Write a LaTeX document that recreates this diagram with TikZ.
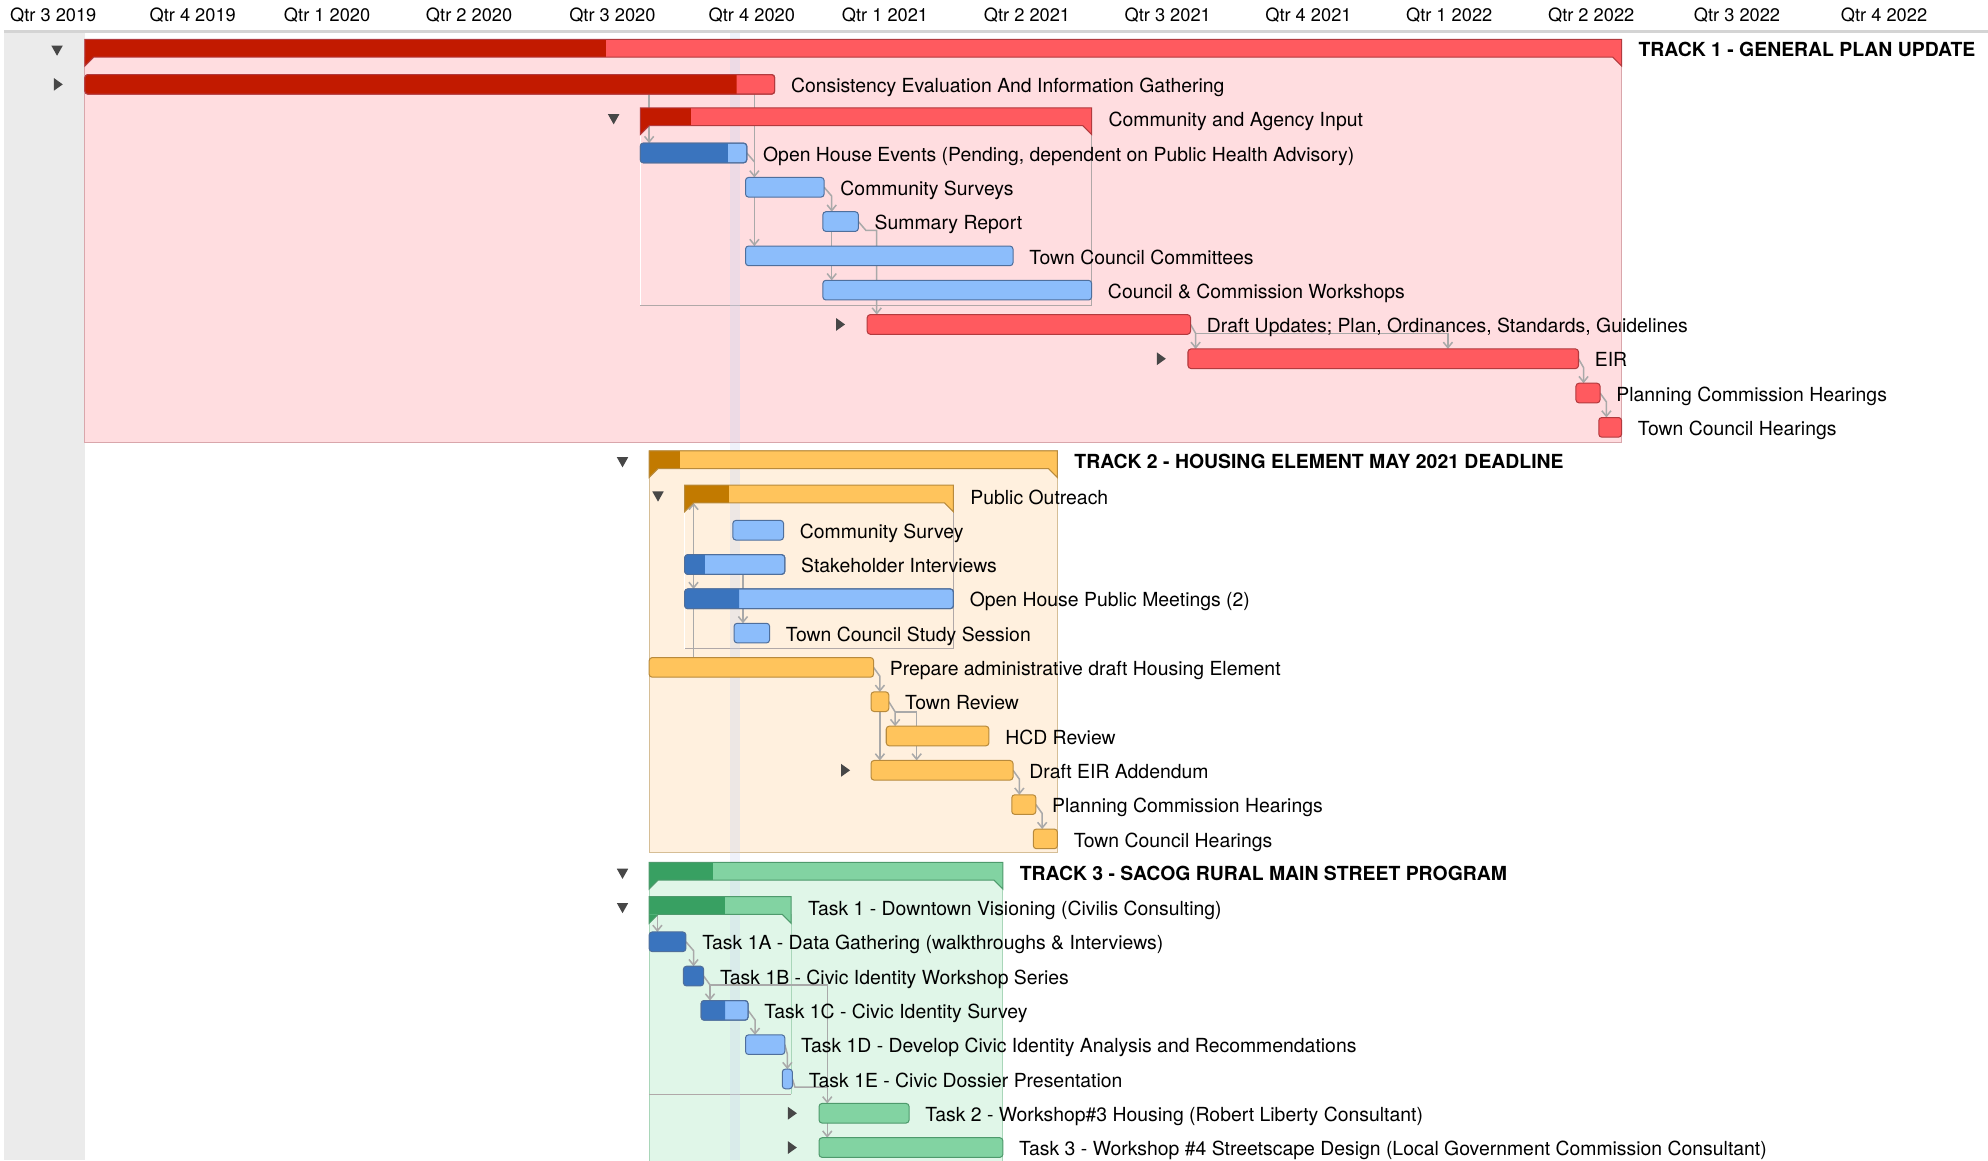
\documentclass[tikz,border=0pt]{standalone}
\usepackage{fontspec}
\setmainfont{TeX Gyre Heros}
\usetikzlibrary{positioning,calc,arrows.meta}

\definecolor{redlt}{HTML}{FF5A5F}
\definecolor{reddk}{HTML}{C21A00}
\definecolor{redln}{HTML}{B23A3E}
\definecolor{bluelt}{HTML}{8CBDFB}
\definecolor{bluedk}{HTML}{3A74BE}
\definecolor{blueln}{HTML}{4F6F9C}
\colorlet{navylt}{bluedk}
\colorlet{navyln}{blueln}
\definecolor{orglt}{HTML}{FFC45C}
\definecolor{orgdk}{HTML}{C27A00}
\definecolor{orgln}{HTML}{B88A3C}
\definecolor{grnlt}{HTML}{82D3A2}
\definecolor{grndk}{HTML}{38A062}
\definecolor{grnln}{HTML}{4E9A6C}
\definecolor{pinkbg}{HTML}{FFDDE0}
\definecolor{pinkln}{HTML}{D9A6AB}
\definecolor{peachbg}{HTML}{FFF0DE}
\definecolor{peachln}{HTML}{D6BE96}
\definecolor{mintbg}{HTML}{E0F6E8}
\definecolor{mintln}{HTML}{A9D6B9}
\definecolor{grpln}{HTML}{B0A8A8}
\definecolor{linkgray}{HTML}{A9A9A9}
\definecolor{railgray}{HTML}{EBEBEB}
\definecolor{hdrgray}{HTML}{D4D4D4}
\definecolor{icongray}{HTML}{474747}
\definecolor{todayblue}{RGB}{205,215,240}

\newcommand\lblfont{\fontsize{7.65}{9}\selectfont}
\newcommand\rowy[1]{39.5+27.05*(#1-1)}

\pgfdeclarelayer{bg}
\pgfdeclarelayer{links}
\pgfsetlayers{bg,links,main}

\tikzset{
  taskbar/.style={rectangle, rounded corners=1.2pt, line width=0.4pt,
    inner sep=0pt, outer sep=0pt, minimum height=7.75pt},
  sumbar/.style={rectangle, inner sep=0pt, outer sep=0pt, minimum height=7pt},
  txt/.style={inner sep=0pt, text height=5.45pt, text depth=0pt, font=\lblfont},
  lbl/.style={txt, yshift=-0.5pt},
  grplbl/.style={txt, yshift=-1.25pt},
  trk/.style={txt, font=\lblfont\bfseries, yshift=-0.75pt},
  hdr/.style={inner sep=0pt, font=\fontsize{7.2}{9}\selectfont},
  deplink/.style={draw=linkgray, line width=0.6pt,
    -{Straight Barb[length=2.2pt,width=3.6pt]}},
  grpbox/.style={draw=grpln, line width=0.4pt}
}

% task bar: name, start, end, row, colour
\newcommand\gtask[5]{%
  \node[taskbar, fill=#5lt, draw=#5ln, minimum width={(#3-#2)*0.5pt}]
    (#1) at ({(#2+#3)/2},{\rowy{#4}}) {};}
% done part of a task bar: name, width, colour
\newcommand\gdone[3]{%
  \fill[#3dk] ([xshift={#2*0.5pt}]#1.north west) [rounded corners=1.2pt]
    -- (#1.north west) -- (#1.south west) [sharp corners]
    -- ([xshift={#2*0.5pt}]#1.south west) -- cycle;
  \draw[#3ln, line width=0.4pt, rounded corners=1.2pt]
    (#1.north west) rectangle (#1.south east);}
% summary bar: name, start, end, row, done width, colour
\newcommand\sumshape[1]{(#1.north west) -- (#1.north east) -- (#1.south east)
  -- ++(0,7) -- ++(-7,-7) -- ($(#1.south west)+(7,0)$) -- ++(-7,7) -- cycle}
\newcommand\gsum[6]{%
  \node[sumbar, minimum width={(#3-#2)*0.5pt}]
    (#1) at ({(#2+#3)/2},{\rowy{#4}-1.5}) {};
  \fill[#6lt] \sumshape{#1};
  \fill[#6dk] (#1.north west) rectangle ($(#1.south west)+(#5,0)$);
  \fill[#6dk] (#1.south west) -- ++(7,0) -- ++(-7,7) -- cycle;
  \draw[#6ln, line width=0.4pt] \sumshape{#1};}
% expand / collapse marks
\newcommand\icdown[2]{\fill[icongray] ({#1-4.5},{\rowy{#2}-3.5}) -- ++(9,0) -- ++(-4.5,8) -- cycle;}
\newcommand\icright[2]{\fill[icongray] ({#1-3.5},{\rowy{#2}-5}) -- ++(7,5) -- ++(-7,5) -- cycle;}

\begin{document}
\begin{tikzpicture}[x=0.5pt, y=-0.5pt]
  \useasboundingbox (0,0) rectangle (1568,915);

  % quarter header
  \foreach \q/\x [count=\i] in {Qtr 3 2019/42, Qtr 4 2019/152, Qtr 1 2020/258,
      Qtr 2 2020/370, Qtr 3 2020/483, Qtr 4 2020/593, Qtr 1 2021/698,
      Qtr 2 2021/810, Qtr 3 2021/921, Qtr 4 2021/1032, Qtr 1 2022/1143,
      Qtr 2 2022/1255, Qtr 3 2022/1370, Qtr 4 2022/1486}
    \node[hdr] (q\i) at (\x,12) {\q};
  \draw[hdrgray, line width=1pt] (3,25) -- (1568,25);

  % track 1
  \gsum{trk1}{67}{1279}{1}{411}{red}
  \node[trk, right=6.5pt of trk1] (trk1T) {TRACK 1 - GENERAL PLAN UPDATE};
  \gtask{cons}{67}{611}{2}{red}
  \gdone{cons}{514}{red}
  \node[lbl, right=6.25pt of cons] (consT) {Consistency Evaluation And Information Gathering};
  \gsum{cai}{505}{861}{3}{40}{red}
  \node[grplbl, right=6.5pt of cai] (caiT) {Community and Agency Input};
  \gtask{ohe}{505}{589}{4}{blue}
  \gdone{ohe}{69}{blue}
  \node[lbl, right=6.25pt of ohe] (oheT) {Open House Events (Pending, dependent on Public Health Advisory)};
  \gtask{csv}{588}{650}{5}{blue}
  \node[lbl, right=6.25pt of csv] (csvT) {Community Surveys};
  \gtask{srp}{649}{677}{6}{blue}
  \node[lbl, right=6.25pt of srp] (srpT) {Summary Report};
  \gtask{tcc}{588}{799}{7}{blue}
  \node[lbl, right=6.25pt of tcc] (tccT) {Town Council Committees};
  \gtask{ccw}{649}{861}{8}{blue}
  \node[lbl, right=6.25pt of ccw] (ccwT) {Council \& Commission Workshops};
  \gtask{dup}{684}{939}{9}{red}
  \node[lbl, right=6.25pt of dup] (dupT) {Draft Updates; Plan, Ordinances, Standards, Guidelines};
  \gtask{eir}{937}{1245}{10}{red}
  \node[lbl, right=6.25pt of eir] (eirT) {EIR};
  \gtask{pch}{1243}{1262}{11}{red}
  \node[lbl, right=6.25pt of pch] (pchT) {Planning Commission Hearings};
  \gtask{tch}{1261}{1279}{12}{red}
  \node[lbl, right=6.25pt of tch] (tchT) {Town Council Hearings};

  % track 2
  \gsum{trk2}{512}{834}{13}{24}{org}
  \node[trk, right=6.5pt of trk2] (trk2T) {TRACK 2 - HOUSING ELEMENT MAY 2021 DEADLINE};
  \gsum{pout}{540}{752}{14}{35}{org}
  \node[grplbl, right=6.5pt of pout] (poutT) {Public Outreach};
  \gtask{csy}{578}{618}{15}{blue}
  \node[lbl, right=6.25pt of csy] (csyT) {Community Survey};
  \gtask{shi}{540}{619}{16}{blue}
  \gdone{shi}{16}{blue}
  \node[lbl, right=6.25pt of shi] (shiT) {Stakeholder Interviews};
  \gtask{ohpm}{540}{752}{17}{blue}
  \gdone{ohpm}{43}{blue}
  \node[lbl, right=6.25pt of ohpm] (ohpmT) {Open House Public Meetings (2)};
  \gtask{tcss}{579}{607}{18}{blue}
  \node[lbl, right=6.25pt of tcss] (tcssT) {Town Council Study Session};
  \gtask{prep}{512}{689}{19}{org}
  \node[lbl, right=6.25pt of prep] (prepT) {Prepare administrative draft Housing Element};
  \gtask{trev}{687}{701}{20}{org}
  \node[lbl, right=6.25pt of trev] (trevT) {Town Review};
  \gtask{hcd}{699}{780}{21}{org}
  \node[lbl, right=6.25pt of hcd] (hcdT) {HCD Review};
  \gtask{dea}{687}{799}{22}{org}
  \node[lbl, right=6.25pt of dea] (deaT) {Draft EIR Addendum};
  \gtask{pch2}{798}{817}{23}{org}
  \node[lbl, right=6.25pt of pch2] (pch2T) {Planning Commission Hearings};
  \gtask{tch2}{815}{834}{24}{org}
  \node[lbl, right=6.25pt of tch2] (tch2T) {Town Council Hearings};

  % track 3
  \gsum{trk3}{512}{791}{25}{50}{grn}
  \node[trk, right=6.5pt of trk3] (trk3T) {TRACK 3 - SACOG RURAL MAIN STREET PROGRAM};
  \gsum{tsk1}{512}{624}{26}{60}{grn}
  \node[grplbl, right=6.5pt of tsk1] (tsk1T) {Task 1 - Downtown Visioning (Civilis Consulting)};
  \gtask{t1a}{512}{541}{27}{navy}
  \node[lbl, right=6.25pt of t1a] (t1aT) {Task 1A - Data Gathering (walkthroughs \& Interviews)};
  \gtask{t1b}{539}{555}{28}{navy}
  \node[lbl, right=6.25pt of t1b] (t1bT) {Task 1B - Civic Identity Workshop Series};
  \gtask{t1c}{553}{590}{29}{blue}
  \gdone{t1c}{19}{blue}
  \node[lbl, right=6.25pt of t1c] (t1cT) {Task 1C - Civic Identity Survey};
  \gtask{t1d}{588}{619}{30}{blue}
  \node[lbl, right=6.25pt of t1d] (t1dT) {Task 1D - Develop Civic Identity Analysis and Recommendations};
  \gtask{t1e}{617}{625}{31}{blue}
  \node[lbl, right=6.25pt of t1e] (t1eT) {Task 1E - Civic Dossier Presentation};
  \gtask{tsk2}{646}{717}{32}{grn}
  \node[lbl, right=6.25pt of tsk2] (tsk2T) {Task 2 - Workshop\#3 Housing (Robert Liberty Consultant)};
  \gtask{tsk3}{646}{791}{33}{grn}
  \node[lbl, right=6.25pt of tsk3] (tsk3T) {Task 3 - Workshop \#4 Streetscape Design (Local Government Commission Consultant)};

  % expand / collapse marks
  \icdown{45}{1} \icright{46}{2} \icdown{484}{3}
  \icright{663}{9} \icright{916}{10}
  \icdown{491}{13} \icdown{519}{14} \icright{667}{22}
  \icdown{491}{25} \icdown{491}{26} \icright{625}{32} \icright{625}{33}

  % group areas
  \begin{pgfonlayer}{bg}
    \fill[railgray] (3,26) rectangle (67,915);
    \filldraw[fill=pinkbg, draw=pinkln, line width=0.4pt]
      (trk1.north west) rectangle ($(trk1.east |- tch.south)+(0,4.2)$);
    \filldraw[fill=peachbg, draw=peachln, line width=0.4pt]
      (trk2.north west) rectangle ($(trk2.east |- tch2.south)+(0,3.2)$);
    \filldraw[fill=mintbg, draw=mintln, line width=0.4pt]
      (trk3.north west) rectangle ($(trk3.east |- tsk3.south)+(0,4)$);
    \draw[grpbox] (cai.north east) -- ($(cai.east |- ccw.south)+(0,4)$)
      -- ($(cai.west |- ccw.south)+(0,4)$);
    \draw[white, line width=0.5pt] (cai.south west) -- ($(cai.west |- ccw.south)+(0,4)$);
    \draw[grpbox] (pout.north east) -- ($(pout.east |- tcss.south)+(0,4.5)$)
      -- ($(pout.west |- tcss.south)+(0,4.5)$);
    \draw[white, line width=0.5pt] (pout.south west) -- ($(pout.west |- tcss.south)+(0,4.5)$);
    \draw[grpbox] ($(tsk1.east |- t1e.south)+(0,4.5)$) -- ($(tsk1.west |- t1e.south)+(0,4.5)$);
    \draw[mintln, line width=0.4pt] (tsk1.south east) -- ($(tsk1.east |- t1e.south)+(0,4.5)$);
    \fill[todayblue, opacity=0.35] (576,26) rectangle (584,915);
  \end{pgfonlayer}

  % dependencies
  \begin{pgfonlayer}{links}
    \path (ohe.north west) ++(7,0) coordinate (k1);
    \draw[deplink] (k1 |- cons.south) -- (k1);
    \path (csv.north west) ++(7,0) coordinate (k2);
    \draw[deplink] (k2 |- cons.south) -- (k2);
    \draw[deplink, -] (ohe.east) -- ++(6,7);
    \path (tcc.north west) ++(7,0) coordinate (k3);
    \draw[deplink] (k3 |- csv.south) -- (k3);
    \draw[deplink] (csv.east) -- ++(6,7) coordinate (k4) -- (k4 |- srp.north);
    \draw[deplink] (k4 |- srp.south) -- (k4 |- ccw.north);
    \draw[deplink] (srp.east) -- ++(6,7) -- ++(8.5,0) coordinate (k5) -- (k5 |- dup.north);
    \draw[deplink] (dup.east) -- ++(4,7) coordinate (k6) -- (k6 |- eir.north);
    \draw[deplink] (k6) -- ++(199,0) coordinate (k7) -- (k7 |- eir.north);
    \draw[deplink] (eir.east) -- ++(4,7) coordinate (k8) -- (k8 |- pch.north);
    \draw[deplink] (pch.east) -- ++(5,7) coordinate (k9) -- (k9 |- tch.north);

    \path (ohpm.north west) ++(7,0) coordinate (m1);
    \draw[deplink] (m1 |- prep.north) -- (m1 |- pout.south);
    \draw[deplink] (m1 |- pout.south) -- (m1);
    \path (tcss.north west) ++(7,0) coordinate (m2);
    \draw[deplink] (m2 |- shi.south) -- (m2);
    \draw[deplink] (prep.east) -- ++(5,7) coordinate (m3) -- (m3 |- trev.north);
    \draw[deplink] (trev.east) -- ++(5,8) coordinate (m4) -- (m4 |- hcd.north);
    \draw[deplink] (m4) -- ++(17,0) coordinate (m5) -- (m5 |- dea.north);
    \draw[deplink] (m3 |- trev.south) -- (m3 |- dea.north);
    \draw[deplink] (dea.east) -- ++(5,7) coordinate (m6) -- (m6 |- pch2.north);
    \draw[deplink] (pch2.east) -- ++(5,7) coordinate (m7) -- (m7 |- tch2.north);

    \path (t1a.north west) ++(6.5,0) coordinate (n1);
    \draw[deplink] (n1 |- tsk1.south) -- (n1);
    \draw[deplink] (t1a.east) -- ++(6,7) coordinate (n2) -- (n2 |- t1b.north);
    \path (tsk2.north west) ++(6.5,0) coordinate (n3);
    \draw[deplink] (t1b.east) -- ++(5,7) coordinate (n4) -- (n4 |- t1c.north);
    \draw[deplink] (n4) -| (n3);
    \draw[deplink] (t1c.east) -- ++(5.5,7.5) coordinate (n5) -- (n5 |- t1d.north);
    \draw[deplink] (t1d.east) -- ++(2,7.5) coordinate (n6) -- (n6 |- t1e.north);
    \draw[deplink, -] (t1e.east) -- ++(2,6.5) coordinate (n7) -- (n7 -| n3);
    \draw[deplink] (n3 |- tsk2.south) -- (n3 |- tsk3.north);
  \end{pgfonlayer}
\end{tikzpicture}
\end{document}
